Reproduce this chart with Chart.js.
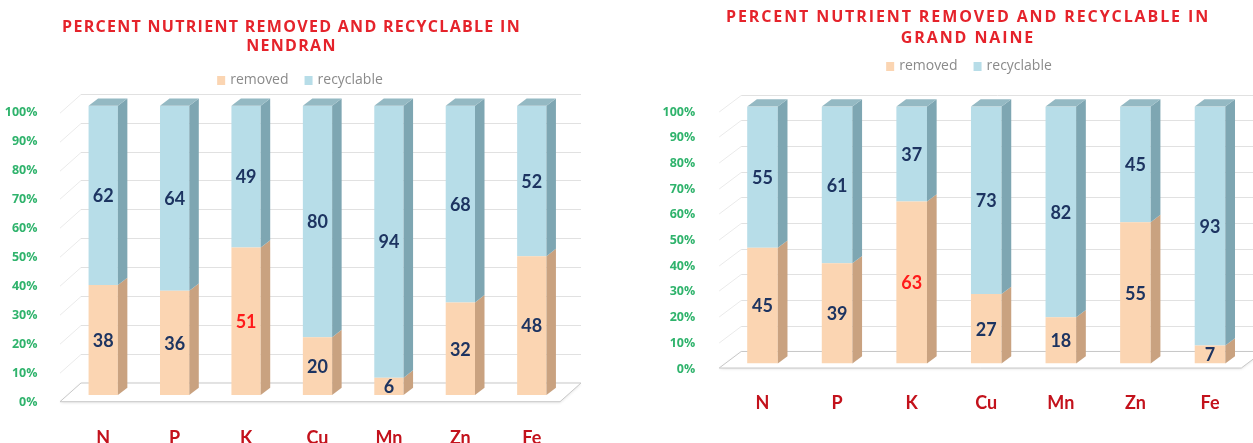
<!DOCTYPE html>
<html>
<head>
<meta charset="utf-8">
<script src="https://cdn.jsdelivr.net/npm/chart.js@4.4.1/dist/chart.umd.min.js"></script>
<style>
  html, body { margin: 0; padding: 0; background: #fff; }
  body { width: 1253px; height: 443px; position: relative; overflow: hidden; }
  .panel { position: absolute; top: 0; height: 443px; }
  #left { left: 0; width: 626px; }
  #right { left: 626px; width: 627px; }
</style>
</head>
<body>
<div class="panel" id="left"><canvas id="nendran" width="626" height="443"></canvas></div>
<div class="panel" id="right"><canvas id="grandNaine" width="627" height="443"></canvas></div>
<script>
const nutrients = ['N', 'P', 'K', 'Cu', 'Mn', 'Zn', 'Fe'];
const nendranRemoved = [38, 36, 51, 20, 6, 32, 48];
const nendranRecyclable = [62, 64, 49, 80, 94, 68, 52];
const grandNaineRemoved = [45, 39, 63, 27, 18, 55, 7];
const grandNaineRecyclable = [55, 61, 37, 73, 82, 45, 93];
const percentTicks = [0, 10, 20, 30, 40, 50, 60, 70, 80, 90, 100];
const highlightNutrient = 'K';

const colors = {
  removed: { front: '#fbd5b2', side: '#c9a280', top: '#e2bc98' },
  recyclable: { front: '#b7dde8', side: '#7ea6b2', top: '#94b9c3' },
  title: '#e5232b',
  axisX: '#c3121c',
  axisY: '#2fb36c',
  value: '#1d3461',
  valueHot: '#ff1a1a',
  legend: '#8a8a8a'
};

// floor, back wall and the side/top faces of each bar, plus the value labels
const bar3d = {
  id: 'bar3d',
  beforeDatasetsDraw(chart, args, opts) {
    const { ctx, chartArea: a, scales: { y } } = chart;
    const f = opts.floor;
    const y0 = y.getPixelForValue(0);
    ctx.save();
    ctx.beginPath();
    ctx.moveTo(a.left + f.fx, y0 + f.fy);
    ctx.lineTo(a.right + f.fx, y0 + f.fy);
    ctx.lineTo(a.right + f.bx, y0 + f.by);
    ctx.lineTo(a.left + f.bx, y0 + f.by);
    ctx.closePath();
    ctx.fillStyle = '#fff';
    ctx.shadowColor = 'rgba(0,0,0,0.12)';
    ctx.shadowBlur = 3;
    ctx.shadowOffsetY = 1;
    ctx.fill();
    ctx.shadowColor = 'transparent';
    ctx.strokeStyle = '#c8c8c8';
    ctx.lineWidth = 1;
    ctx.stroke();

    ctx.lineWidth = 1;
    y.ticks.forEach(t => {
      const py = Math.round(y.getPixelForValue(t.value)) + 0.5;
      if (t.value > 0) {
        ctx.strokeStyle = '#e1e1e1';
        ctx.beginPath();
        ctx.moveTo(a.left + f.bx, py + f.by);
        ctx.lineTo(a.right + f.bx, py + f.by);
        ctx.stroke();
        ctx.strokeStyle = '#eaeaea';
        ctx.beginPath();
        ctx.moveTo(a.left + f.fx, py + f.fy);
        ctx.lineTo(a.left + f.bx, py + f.by);
        ctx.stroke();
      }
    });
    ctx.restore();
  },
  afterDatasetsDraw(chart, args, opts) {
    const { ctx } = chart;
    const { dx, dy } = opts.depth;
    const last = chart.data.datasets.length - 1;
    ctx.save();
    chart.data.datasets.forEach((ds, di) => {
      chart.getDatasetMeta(di).data.forEach(bar => {
        const { x, y, base, width } = bar.getProps(['x', 'y', 'base', 'width'], true);
        const l = x - width / 2, r = x + width / 2;
        ctx.fillStyle = ds.sideColor;
        ctx.beginPath();
        ctx.moveTo(r, y);
        ctx.lineTo(r + dx, y + dy);
        ctx.lineTo(r + dx, base + dy);
        ctx.lineTo(r, base);
        ctx.closePath();
        ctx.fill();
        if (di === last) {
          ctx.fillStyle = ds.topColor;
          ctx.beginPath();
          ctx.moveTo(l, y);
          ctx.lineTo(l + dx, y + dy);
          ctx.lineTo(r + dx, y + dy);
          ctx.lineTo(r, y);
          ctx.closePath();
          ctx.fill();
        }
      });
    });

    ctx.font = 'bold 18px Lato';
    ctx.textAlign = 'center';
    ctx.textBaseline = 'middle';
    chart.data.datasets.forEach((ds, di) => {
      chart.getDatasetMeta(di).data.forEach((bar, i) => {
        const { x, y, base } = bar.getProps(['x', 'y', 'base'], true);
        const hot = di === 0 && chart.data.labels[i] === highlightNutrient;
        ctx.fillStyle = hot ? colors.valueHot : colors.value;
        ctx.fillText(ds.data[i], x, (y + base) / 2 + 1);
      });
    });
    ctx.restore();
  }
};

// spaced title lines and the legend row above the plot
const heading = {
  id: 'heading',
  afterDraw(chart, args, opts) {
    const { ctx } = chart;
    ctx.save();
    ctx.font = 'bold 16px "Open Sans"';
    ctx.fillStyle = colors.title;
    ctx.textAlign = 'center';
    ctx.textBaseline = 'middle';
    const plain = ctx.measureText(opts.lines[0]).width;
    ctx.letterSpacing = Math.max(0, (opts.width - plain) / opts.lines[0].length).toFixed(2) + 'px';
    opts.lines.forEach((line, k) => ctx.fillText(line, opts.cx, opts.lineY[k]));
    ctx.letterSpacing = '0px';

    ctx.font = '14px "Open Sans"';
    ctx.textAlign = 'left';
    const box = 8, gap = 5, between = 16;
    const items = chart.data.datasets.map(ds => ({ text: ds.label, color: ds.backgroundColor, w: ctx.measureText(ds.label).width }));
    const total = items.reduce((s, it) => s + box + gap + it.w, 0) + between * (items.length - 1);
    let x = opts.legendCx - total / 2;
    items.forEach(it => {
      ctx.fillStyle = it.color;
      ctx.fillRect(x, opts.legendY - 4, box, 9);
      x += box + gap;
      ctx.fillStyle = colors.legend;
      ctx.fillText(it.text, x, opts.legendY);
      x += it.w + between;
    });
    ctx.restore();
  }
};

function buildChart(id, removed, recyclable, cfg) {
  return new Chart(document.getElementById(id), {
    type: 'bar',
    data: {
      labels: nutrients,
      datasets: [
        { label: 'removed', data: removed, backgroundColor: colors.removed.front,
          sideColor: colors.removed.side, topColor: colors.removed.top },
        { label: 'recyclable', data: recyclable, backgroundColor: colors.recyclable.front,
          sideColor: colors.recyclable.side, topColor: colors.recyclable.top }
      ]
    },
    options: {
      responsive: false,
      devicePixelRatio: 1,
      animation: false,
      layout: { padding: { top: cfg.top, right: cfg.right, left: 0, bottom: 0 } },
      datasets: { bar: { categoryPercentage: 1, barPercentage: 0.41, borderWidth: 0 } },
      scales: {
        x: {
          stacked: true,
          grid: { display: false },
          border: { display: false },
          ticks: { color: colors.axisX, font: { family: 'Lato', size: 18, weight: 'bold' }, padding: cfg.xPad },
          afterFit: s => { s.height = cfg.xHeight; }
        },
        y: {
          stacked: true,
          min: 0,
          max: 100,
          grid: { display: false },
          border: { display: false },
          afterBuildTicks: s => { s.ticks = percentTicks.map(v => ({ value: v })); },
          ticks: {
            color: colors.axisY,
            font: { family: 'Open Sans', size: 12.5, weight: 'bold' },
            padding: 22,
            labelOffset: cfg.labelOffset,
            callback: v => v + '%'
          },
          afterFit: s => { s.width = cfg.yWidth; }
        }
      },
      plugins: {
        legend: { display: false },
        tooltip: { enabled: false },
        bar3d: { floor: cfg.floor, depth: cfg.depth },
        heading: cfg.heading
      }
    },
    plugins: [bar3d, heading]
  });
}

buildChart('nendran', nendranRemoved, nendranRecyclable, {
  top: 105.7, right: 58.5, yWidth: 67.5, xHeight: 48, xPad: 24, labelOffset: 7,
  floor: { fx: -7.5, fy: 6.7, bx: 13.5, by: -12 },
  depth: { dx: 9.5, dy: -7.3 },
  heading: {
    lines: ['PERCENT NUTRIENT REMOVED AND RECYCLABLE IN', 'NENDRAN'],
    cx: 291.5, lineY: [27, 46], width: 459, legendCx: 300, legendY: 80
  }
});

buildChart('grandNaine', grandNaineRemoved, grandNaineRecyclable, {
  top: 106.5, right: 5.7, yWidth: 99.2, xHeight: 79.5, xPad: 21, labelOffset: 5.5,
  floor: { fx: -6, fy: 4.5, bx: 16, by: -12 },
  depth: { dx: 9.7, dy: -7.3 },
  heading: {
    lines: ['PERCENT NUTRIENT REMOVED AND RECYCLABLE IN', 'GRAND NAINE'],
    cx: 342, lineY: [17, 38], width: 484, legendCx: 343, legendY: 66
  }
});
</script>
</body>
</html>
